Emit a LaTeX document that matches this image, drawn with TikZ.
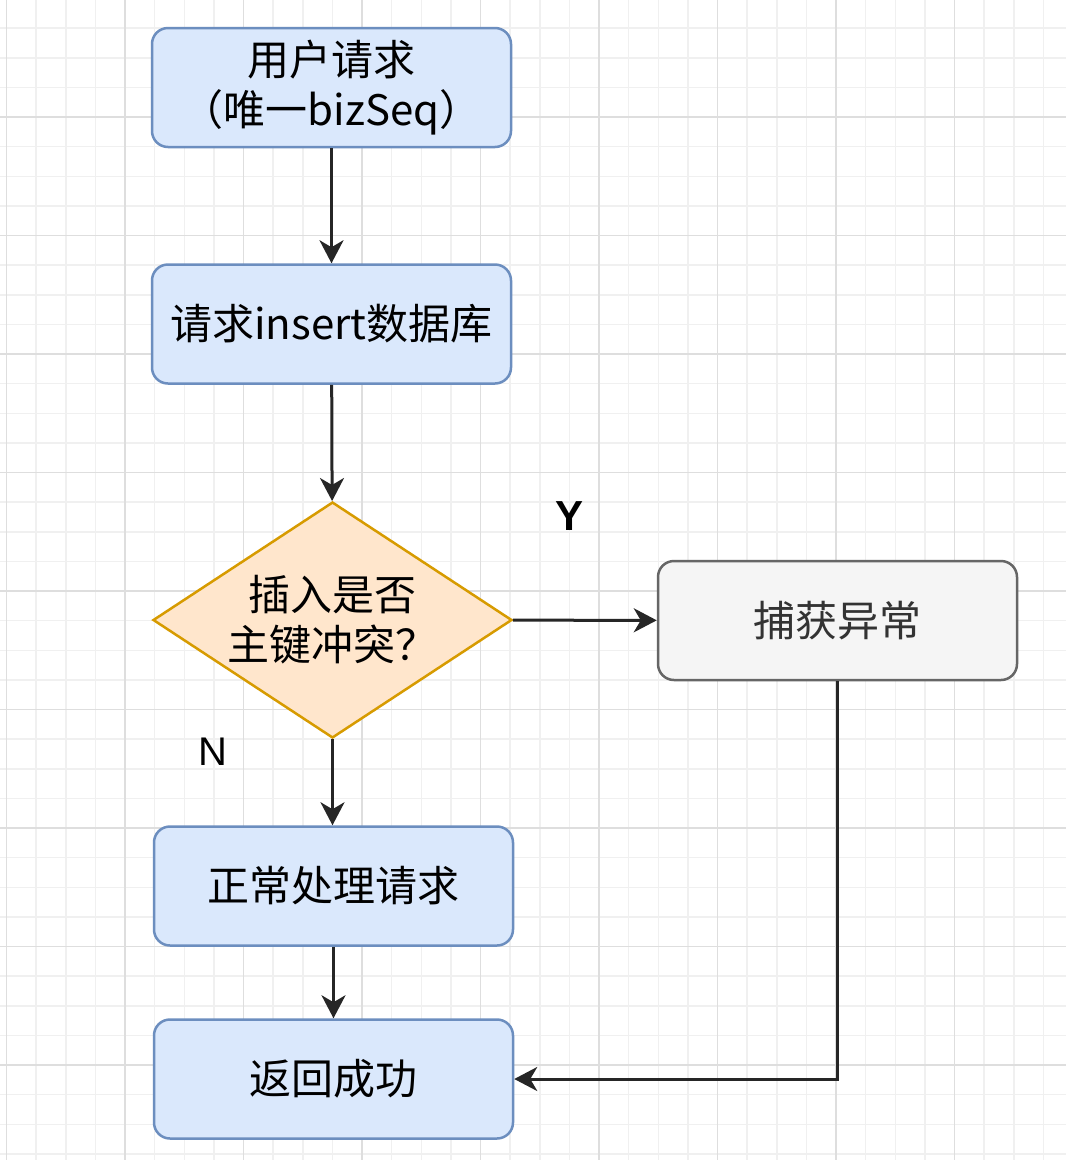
\documentclass[tikz,border=0pt]{standalone}
\usepackage{fontspec}
\usepackage{xcolor}
\usepackage{tikz}
\usetikzlibrary{shapes.geometric, arrows.meta, positioning, calc}
\setmainfont{Noto Sans CJK SC}
\newfontfamily\arialfont{Liberation Sans}
\definecolor{flowblue}{HTML}{DAE8FC}
\definecolor{flowblueline}{HTML}{6C8EBF}
\definecolor{floworange}{HTML}{FFE6CC}
\definecolor{floworangeline}{HTML}{D79B00}
\definecolor{flowgray}{HTML}{F5F5F5}
\definecolor{flowgrayline}{HTML}{666666}
\definecolor{gridminor}{HTML}{F0F0F0}
\definecolor{gridmajor}{HTML}{DEDEDE}

\begin{document}
\begin{tikzpicture}[x=1pt, y=-1pt,
    box/.style={rounded corners=16pt, line width=2.5pt, minimum width=359pt,
                minimum height=119pt, inner sep=0pt, align=center,
                font=\fontsize{42}{50}\selectfont},
    bluebox/.style={box, fill=flowblue, draw=flowblueline},
    graybox/.style={box, fill=flowgray, draw=flowgrayline, text=black!80},
    decision/.style={diamond, aspect=1.52, minimum width=359pt, minimum height=236pt,
                     inner sep=0pt, line width=2.5pt, fill=floworange,
                     draw=floworangeline, align=center, font=\fontsize{42}{50}\selectfont},
    arr/.style={line width=3pt, draw=black!85,
                -{Stealth[length=23pt, width=24pt, inset=7pt]}},
    gridthin/.style={draw=gridminor, line width=1.5pt},
    gridthick/.style={draw=gridmajor, line width=1.8pt}]

    % background and grid
    \fill[white] (0,0) rectangle (1066,1160);
    \useasboundingbox (0,0) rectangle (1066,1160);
    \foreach \k in {0,...,35}
        \draw[gridthin] ({6.5+29.625*\k},0) -- ({6.5+29.625*\k},1160);
    \foreach \k in {1,...,39}
        \draw[gridthin] (0,{-1.5+29.625*\k}) -- (1066,{-1.5+29.625*\k});
    \foreach \k in {0,...,8}
        \draw[gridthick] ({6.5+118.5*\k},0) -- ({6.5+118.5*\k},1160);
    \foreach \k in {1,...,9}
        \draw[gridthick] (0,{-1.5+118.5*\k}) -- (1066,{-1.5+118.5*\k});

    % nodes
    \node[bluebox] (req) at (331.5,87.5) {用户请求\\（唯一bizSeq）};
    \node[bluebox] (ins) at (331.5,324) {请求insert数据库};
    \node[decision] (dec) at (332.5,620) {插入是否\\主键冲突？};
    \node[graybox] (catch) at (837.5,620.5) {捕获异常};
    \node[bluebox] (proc) at (333.5,886) {正常处理请求};
    \node[bluebox] (ret) at (333.5,1079) {返回成功};

    \node[font=\arialfont\bfseries\fontsize{42}{42}\selectfont] (ylab) at (570,516) {Y};
    \node[font=\arialfont\fontsize{40}{40}\selectfont] (nlab) at (213,752) {N};

    % connectors
    \draw[arr] (req) -- (ins);
    \draw[arr] (ins) -- (dec);
    \draw[arr] (dec.south) -- (dec.south |- proc.north);
    \draw[arr] (proc) -- (ret);
    \draw[arr] (dec) -- (catch);
    \draw[arr] (catch.south) |- (ret.east);
\end{tikzpicture}
\end{document}
